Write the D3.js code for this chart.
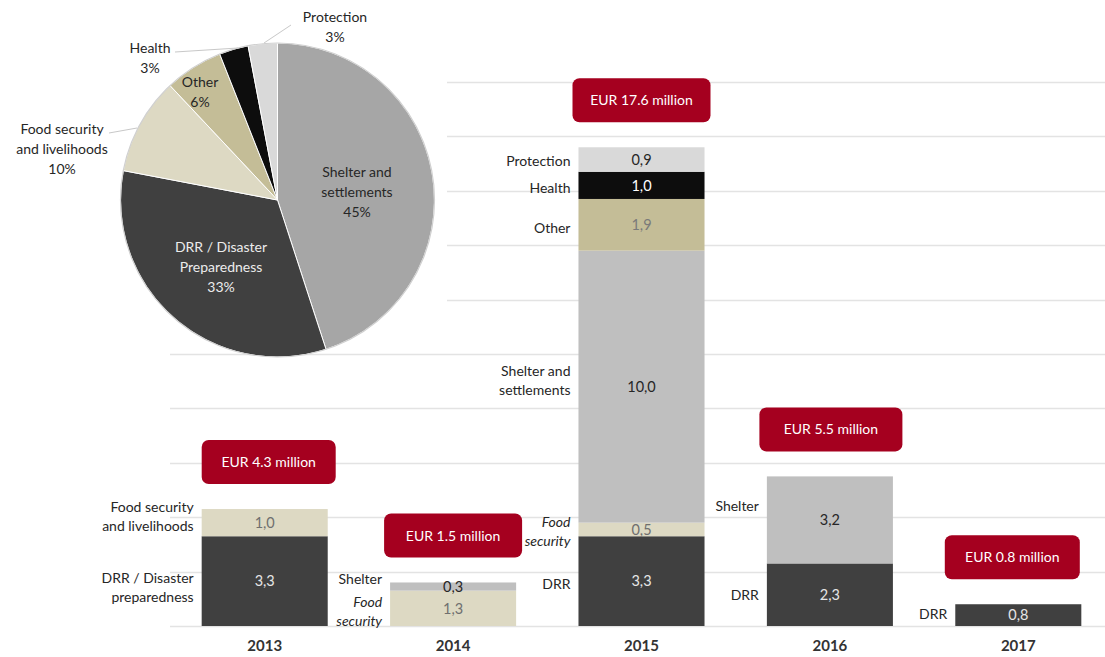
<!DOCTYPE html>
<html><head><meta charset="utf-8">
<script src="https://cdn.jsdelivr.net/npm/d3@7"></script>
<style>
body{margin:0;background:#fff;}
svg{font-family:Lato,"Open Sans",sans-serif;}
</style></head>
<body><svg id="c" width="1105" height="657"></svg>
<script>
// ---------- data ----------
const years = ["2013","2014","2015","2016","2017"];
const categories = ["DRR","Food security","Shelter","Other","Health","Protection"];
const drr        = [3.3, 0,   3.3, 2.3, 0.8];
const food       = [1.0, 1.3, 0.5, 0,   0];
const shelter    = [0,   0.3, 10.0,3.2, 0];
const other      = [0,   0,   1.9, 0,   0];
const health     = [0,   0,   1.0, 0,   0];
const protection = [0,   0,   0.9, 0,   0];
const totals = ["EUR 4.3 million","EUR 1.5 million","EUR 17.6 million","EUR 5.5 million","EUR 0.8 million"];
const yTicks = [0,2,4,6,8,10,12,14,16,18,20];
// side labels: [year index, category, lines, italic]
const sideLabels = [
  [0,"Food security",["Food security","and livelihoods"],false],
  [0,"DRR",["DRR / Disaster","preparedness"],false],
  [1,"Shelter",["Shelter"],false],
  [1,"Food security",["Food","security"],true],
  [2,"Protection",["Protection"],false],
  [2,"Health",["Health"],false],
  [2,"Other",["Other"],false],
  [2,"Shelter",["Shelter and","settlements"],false],
  [2,"Food security",["Food","security"],true],
  [2,"DRR",["DRR"],false],
  [3,"Shelter",["Shelter"],false],
  [3,"DRR",["DRR"],false],
  [4,"DRR",["DRR"],false]
];
const pieNames = ["Shelter and settlements","DRR / Disaster Preparedness","Food security and livelihoods","Other","Health","Protection"];
const pieValues = [45,33,10,6,3,3];
const pieLabelLines = [["Shelter and","settlements","45%"],["DRR / Disaster","Preparedness","33%"],["Food security","and livelihoods","10%"],["Other","6%"],["Health","3%"],["Protection","3%"]];

// ---------- styles / layout ----------
const barColor = {"DRR":"#404040","Food security":"#ddd9c3","Shelter":"#bfbfbf","Other":"#c4bd97","Health":"#0d0d0d","Protection":"#d9d9d9"};
const valColor = {"DRR":"#e6e6e6","Food security":"#6f6f6f","Shelter":"#262626","Other":"#7a7a7a","Health":"#ffffff","Protection":"#262626"};
const pieColors = ["#a6a6a6","#404040","#ddd9c3","#c4bd97","#0d0d0d","#d9d9d9"];
const sideDy = [-6,6,-8,3,1,2.5,3,-6,2,3,-14,0,-1];
const boxDx = [4,0,0,1,-6];
const boxW = [134,138,138,143,135];

const svg = d3.select("#c");
const x = d3.scaleBand().domain(years).range([170.5,1112.5]).paddingInner(0.331).paddingOuter(0.1655);
const y = d3.scaleLinear().domain([0,20]).range([626,82]);

// gridlines
svg.append("g").selectAll("line").data(yTicks).join("line")
  .attr("x1",170).attr("x2",1105).attr("y1",d=>Math.round(y(d))+0.5).attr("y2",d=>Math.round(y(d))+0.5)
  .attr("stroke","#e3e3e3").attr("stroke-width",1.5);

// stacked bars
const series = {"DRR":drr,"Food security":food,"Shelter":shelter,"Other":other,"Health":health,"Protection":protection};
const rows = years.map((yr,i)=>{const r={year:yr}; categories.forEach(c=>r[c]=series[c][i]); return r;});
const stack = d3.stack().keys(categories)(rows);
const gBars = svg.append("g");
stack.forEach(layer=>{
  const cat = layer.key;
  layer.forEach((d,i)=>{
    if(d[1]-d[0]<=0) return;
    gBars.append("rect").attr("x",x(years[i])).attr("width",x.bandwidth())
      .attr("y",y(d[1])).attr("height",y(d[0])-y(d[1])).attr("fill",barColor[cat]);
  });
});
stack.forEach(layer=>{
  const cat = layer.key;
  layer.forEach((d,i)=>{
    const v=d[1]-d[0]; if(v<=0) return;
    gBars.append("text").attr("x",x(years[i])+x.bandwidth()/2).attr("y",(y(d[0])+y(d[1]))/2)
      .attr("dy","0.36em").attr("text-anchor","middle").attr("font-size",14.5)
      .attr("fill",valColor[cat]).text(d3.format(".1f")(v).replace(".",","));
  });
});

// side labels
const segMid = (i,cat)=>{const layer=stack.find(l=>l.key===cat); const d=layer[i]; return (y(d[0])+y(d[1]))/2;};
sideLabels.forEach((s,k)=>{
  const [i,cat,lines,ital]=s;
  const cy = segMid(i,cat)+sideDy[k];
  const t = svg.append("text").attr("text-anchor","end").attr("font-size",14).attr("fill","#262626")
    .attr("font-style",ital?"italic":"normal");
  const lh=19, start=cy-(lines.length-1)*lh/2;
  lines.forEach((ln,j)=>t.append("tspan").attr("x",x(years[i])-8).attr("y",start+j*lh).attr("dy","0.36em").text(ln));
});

// year labels
svg.append("g").selectAll("text").data(years).join("text")
  .attr("x",d=>x(d)+x.bandwidth()/2).attr("y",651).attr("text-anchor","middle")
  .attr("font-size",15).attr("font-weight","bold").attr("fill","#333").text(d=>d);

// total boxes
const tops = years.map((yr,i)=>y(d3.sum(categories,c=>series[c][i])));
years.forEach((yr,i)=>{
  const cx = x(yr)+x.bandwidth()/2+boxDx[i], bh=44, bw=boxW[i], by=tops[i]-25-bh;
  svg.append("rect").attr("x",cx-bw/2).attr("y",by).attr("width",bw).attr("height",bh)
    .attr("rx",7).attr("fill","#a5001f");
  svg.append("text").attr("x",cx).attr("y",by+bh/2).attr("dy","0.36em").attr("text-anchor","middle")
    .attr("font-size",14).attr("fill","#fff").text(totals[i]);
});

// pie with white background
svg.append("rect").attr("x",0).attr("y",0).attr("width",447).attr("height",349).attr("fill","#fff");
const pcx=277.5, pcy=200, pr=157;
const gp = svg.append("g").attr("transform",`translate(${pcx},${pcy})`);
const arcs = d3.pie().sort(null).value(d=>d)(pieValues);
const arc = d3.arc().innerRadius(0).outerRadius(pr);
gp.selectAll("path").data(arcs).join("path").attr("d",arc)
  .attr("fill",(d,i)=>pieColors[i]).attr("stroke","#fff").attr("stroke-width",1);
gp.append("circle").attr("r",pr).attr("fill","none").attr("stroke","#d0d0d0").attr("stroke-width",1.2);

// pie labels (absolute positions)
const pieLabelPos = [[357,172,"#262626"],[221,247,"#ececec"],[62,129,"#262626"],[200,82,"#262626"],[150,48,"#262626"],[335,17,"#262626"]];
pieLabelLines.forEach((lines,i)=>{
  const [lx,ly,col]=pieLabelPos[i];
  const t=svg.append("text").attr("text-anchor","middle").attr("font-size",14).attr("fill",col);
  lines.forEach((ln,j)=>t.append("tspan").attr("x",lx).attr("y",ly+j*20.2).attr("dy","0.36em").text(ln));
});
// leader lines
const leaders = [[[109,133],[137,128]],[[175,52],[238,48]],[[291,25],[264,43]]];
leaders.forEach(l=>svg.append("polyline").attr("points",l.map(p=>p.join(",")).join(" "))
  .attr("fill","none").attr("stroke","#c8c8c8").attr("stroke-width",1));
</script></body></html>
